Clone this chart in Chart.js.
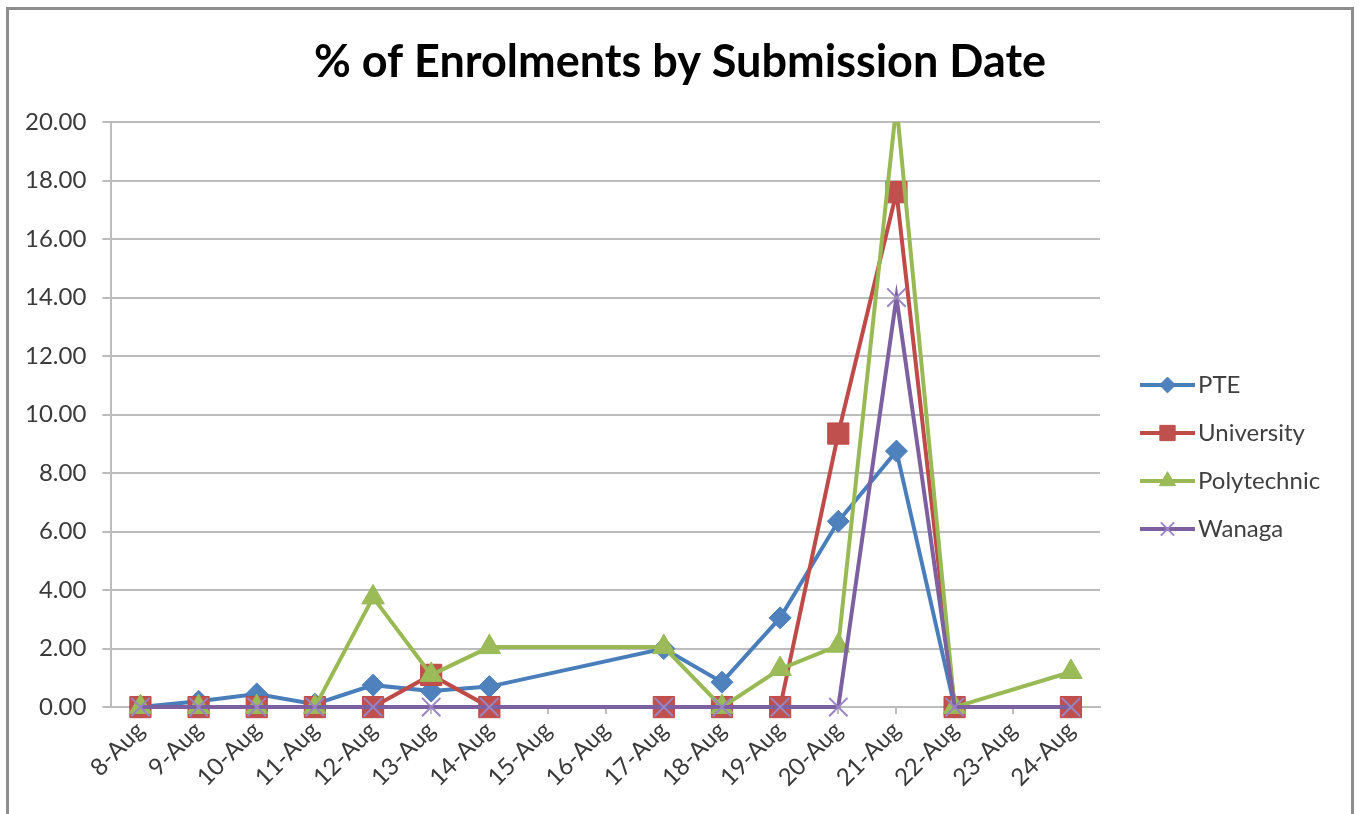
<!DOCTYPE html>
<html>
<head>
<meta charset="utf-8">
<script src="https://cdn.jsdelivr.net/npm/chart.js@4.4.1/dist/chart.umd.min.js"></script>
<style>
    html, body { margin: 0; padding: 0; background: #fff; overflow: hidden; }
    #frame {
        position: absolute; left: 6px; top: 7px;
        width: 1342px; height: 830px;
        border: 3px solid #8e8e8e;
    }
    #wrap { position: relative; width: 1342px; height: 804px; }
</style>
</head>
<body>
<div id="frame"><div id="wrap"><canvas id="enrolChart"></canvas></div></div>
<script>
const dates = ['8-Aug', '9-Aug', '10-Aug', '11-Aug', '12-Aug', '13-Aug', '14-Aug', '15-Aug', '16-Aug',
    '17-Aug', '18-Aug', '19-Aug', '20-Aug', '21-Aug', '22-Aug', '23-Aug', '24-Aug'];

// % of enrolments per day (null = no submissions recorded that day)
const pte         = [0, 0.2, 0.45, 0.1, 0.75, 0.55, 0.7, null, null, 2.0, 0.85, 3.05, 6.35, 8.75, 0, null, 0];
const university  = [0, 0, 0, 0, 0, 1.1, 0, null, null, 0, 0, 0, 9.35, 17.6, 0, null, 0];
const polytechnic = [0, 0, 0, 0, 3.75, 1.1, 2.05, null, null, 2.05, 0, 1.3, 2.1, 20.6, 0, null, 1.2];
const wanaga      = [0, 0, 0, 0, 0, 0, 0, null, null, 0, 0, 0, 0, 14.0, 0, null, 0];

const chartTitle = '% of Enrolments by Submission Date';

const FONT = 'Lato, "Open Sans", sans-serif';
const clipBox = { left: 30, top: 0, right: 30, bottom: 30 };

// title centred over the whole chart, plus an Excel-style legend
// (line with the series marker) to the right of the plot
const excelDecor = {
    id: 'excelDecor',
    afterDraw(chart) {
        const { ctx, chartArea } = chart;

        ctx.save();
        ctx.fillStyle = '#000';
        ctx.font = 'bold 45px ' + FONT;
        ctx.textAlign = 'center';
        ctx.textBaseline = 'middle';
        ctx.fillText(chartTitle, chart.width / 2, 52);
        ctx.restore();

        const x0 = chartArea.right + 40;
        chart.data.datasets.forEach((ds, i) => {
            const y = chartArea.top + 263 + i * 48;
            ctx.save();
            ctx.strokeStyle = ds.borderColor;
            ctx.lineWidth = 4;
            ctx.beginPath();
            ctx.moveTo(x0, y);
            ctx.lineTo(x0 + 55, y);
            ctx.stroke();
            ctx.fillStyle = ds.pointBackgroundColor;
            ctx.strokeStyle = ds.pointBorderColor;
            ctx.lineWidth = ds.pointBorderWidth;
            Chart.helpers.drawPoint(ctx, {
                pointStyle: ds.pointStyle,
                radius: ds.pointRadius * 0.72,
                borderWidth: ds.pointBorderWidth
            }, x0 + 27.5, y);
            ctx.fillStyle = '#404040';
            ctx.font = '24px ' + FONT;
            ctx.textBaseline = 'middle';
            ctx.fillText(ds.label, x0 + 58, y);
            ctx.restore();
        });
    }
};

new Chart(document.getElementById('enrolChart'), {
    type: 'line',
    data: {
        labels: dates,
        datasets: [
            {
                label: 'PTE',
                data: pte,
                order: 4,
                borderColor: '#4A7EBB',
                backgroundColor: '#4A7EBB',
                borderWidth: 4,
                pointStyle: 'rectRot',
                pointRadius: 11,
                pointBackgroundColor: '#4F81BD',
                pointBorderColor: '#4A7EBB',
                pointBorderWidth: 1,
                spanGaps: true,
                clip: clipBox,
            },
            {
                label: 'University',
                data: university,
                order: 3,
                borderColor: '#BE4B48',
                backgroundColor: '#BE4B48',
                borderWidth: 4,
                pointStyle: 'rect',
                pointRadius: 15,
                pointBackgroundColor: '#C0504D',
                pointBorderColor: '#BE4B48',
                pointBorderWidth: 1,
                spanGaps: true,
                clip: clipBox,
            },
            {
                label: 'Polytechnic',
                data: polytechnic,
                order: 2,
                borderColor: '#98B954',
                backgroundColor: '#98B954',
                borderWidth: 4,
                pointStyle: 'triangle',
                pointRadius: 13,
                pointBackgroundColor: '#9BBB59',
                pointBorderColor: '#98B954',
                pointBorderWidth: 1,
                spanGaps: true,
                clip: clipBox,
            },
            {
                label: 'Wanaga',
                data: wanaga,
                order: 1,
                borderColor: '#7D60A0',
                backgroundColor: '#7D60A0',
                borderWidth: 4,
                pointStyle: 'crossRot',
                pointRadius: 13,
                pointBackgroundColor: '#9A84C4',
                pointBorderColor: '#9A84C4',
                pointBorderWidth: 2,
                spanGaps: true,
                clip: clipBox,
            }
        ]
    },
    options: {
        responsive: true,
        maintainAspectRatio: false,
        animation: false,
        layout: { padding: { left: 0, right: 251, top: 112, bottom: 20 } },
        plugins: {
            title: { display: false },
            legend: { display: false },
            tooltip: { enabled: false },
        },
        scales: {
            x: {
                offset: true,
                grid: {
                    drawOnChartArea: false,
                    drawTicks: true,
                    tickLength: 7,
                    color: '#bcbcbc',
                    lineWidth: 2,
                },
                border: { color: '#bcbcbc', width: 2 },
                ticks: {
                    autoSkip: false,
                    maxRotation: 45,
                    minRotation: 45,
                    padding: 2,
                    color: '#3a3a3a',
                    font: { family: FONT, size: 24 },
                }
            },
            y: {
                min: 0,
                max: 20,
                grid: {
                    color: '#bcbcbc',
                    lineWidth: 2,
                    tickLength: 9,
                },
                border: { color: '#bcbcbc', width: 2 },
                ticks: {
                    stepSize: 2,
                    padding: 16,
                    color: '#3a3a3a',
                    font: { family: FONT, size: 24 },
                    callback: (value) => value.toFixed(2),
                }
            }
        }
    },
    plugins: [excelDecor]
});
</script>
</body>
</html>
